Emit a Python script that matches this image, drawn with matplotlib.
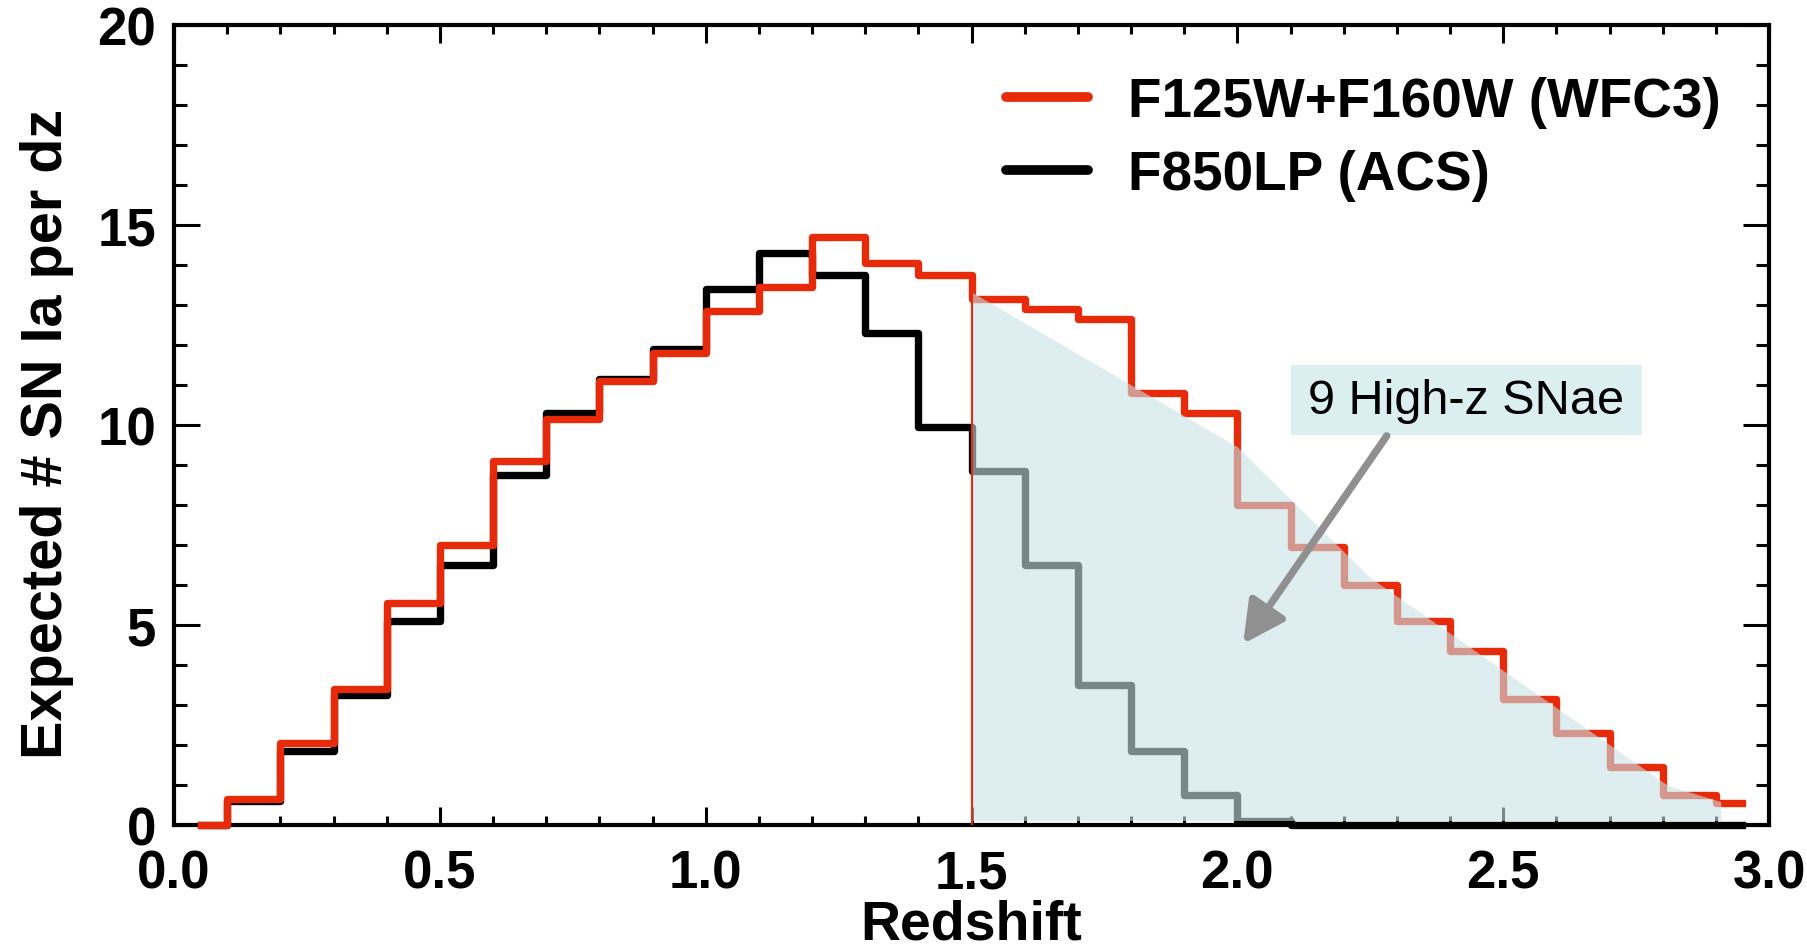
import matplotlib
matplotlib.use("Agg")
import matplotlib.pyplot as plt
from matplotlib.patches import Polygon, Rectangle
from matplotlib.ticker import MultipleLocator

plt.rcParams["font.family"] = ["Liberation Sans", "DejaVu Sans"]

# expected SN Ia counts per 0.1 redshift bin
z_bins = [0.05, 0.15, 0.25, 0.35, 0.45, 0.55, 0.65, 0.75, 0.85, 0.95,
          1.05, 1.15, 1.25, 1.35, 1.45, 1.55, 1.65, 1.75, 1.85, 1.95,
          2.05, 2.15, 2.25, 2.35, 2.45, 2.55, 2.65, 2.75, 2.85, 2.95]
n_wfc3 = [0.0, 0.65, 2.05, 3.4, 5.55, 7.0, 9.1, 10.15, 11.1, 11.8,
          12.85, 13.45, 14.7, 14.05, 13.75, 13.15, 12.9, 12.65, 10.8, 10.3,
          8.0, 6.95, 6.0, 5.1, 4.35, 3.15, 2.3, 1.45, 0.75, 0.55]
n_acs = [0.0, 0.6, 1.85, 3.25, 5.1, 6.5, 8.75, 10.3, 11.15, 11.9,
         13.4, 14.3, 13.75, 12.3, 9.95, 8.85, 6.5, 3.5, 1.85, 0.75,
         0.1, 0.0, 0.0, 0.0, 0.0, 0.0, 0.0, 0.0, 0.0, 0.0]

# high-z region beyond the ACS reach
shade_z = [1.5, 2.0, 2.25, 2.81, 2.91, 2.91, 1.5]
shade_n = [13.32, 9.45, 6.18, 0.98, 0.57, 0.1, 0.1]
z_cut = 1.5
n_cut = 13.75

labels = ["F125W+F160W (WFC3)", "F850LP (ACS)"]
note = "9 High-z SNae"

RED = "#e62a0a"

fig = plt.figure(figsize=(18.07, 9.53), dpi=100)
ax = fig.add_axes([0.0963, 0.1333, 0.8827, 0.8394])

l_acs, = ax.step(z_bins, n_acs, where="mid", color="black", lw=5.3,
                 clip_on=False, zorder=3, label=labels[1])
l_wfc3, = ax.step(z_bins, n_wfc3, where="mid", color=RED, lw=5.3,
                  clip_on=False, zorder=4, label=labels[0])

ax.add_patch(Polygon(list(zip(shade_z, shade_n)), closed=True,
                     facecolor="#c8e1e6", edgecolor="none", alpha=0.6,
                     zorder=5))
ax.plot([z_cut, z_cut], [0, n_cut], color=RED, lw=1.5, zorder=6)

# annotation box + arrow
ax.add_patch(Rectangle((2.101, 9.75), 0.66, 1.75, facecolor="#dbeef0",
                       edgecolor="none", zorder=7))
ax.text(2.431, 10.6, note, fontsize=35, ha="center", va="center",
        zorder=8)
ax.annotate("", xy=(2.011, 4.53), xytext=(2.281, 9.73),
            arrowprops=dict(arrowstyle="-|>,head_length=2.5,head_width=1.3",
                            mutation_scale=10, color="#909090", lw=5.3,
                            shrinkA=0, shrinkB=0),
            zorder=8)

leg = ax.legend(handles=[l_wfc3, l_acs], loc="upper left",
                bbox_to_anchor=(0.5216, 0.936), frameon=False,
                prop={"weight": "bold", "size": 39.5},
                handlelength=1.5, handletextpad=0.72, labelspacing=0.38,
                borderpad=0, borderaxespad=0)
for h in leg.get_lines():
    h.set_linewidth(7)
    h.set_solid_capstyle("round")

ax.set_xlim(0, 3)
ax.set_ylim(0, 20)
ax.xaxis.set_major_locator(MultipleLocator(0.5))
ax.xaxis.set_minor_locator(MultipleLocator(0.1))
ax.yaxis.set_major_locator(MultipleLocator(5))
ax.yaxis.set_minor_locator(MultipleLocator(1))
ax.xaxis.set_major_formatter(plt.FormatStrFormatter("%.1f"))

ax.tick_params(axis="both", which="both", direction="in",
               top=True, right=True, width=2.2)
ax.tick_params(axis="x", which="major", length=13, pad=17)
ax.tick_params(axis="x", which="minor", length=6.5)
ax.tick_params(axis="y", which="major", length=19, pad=13)
ax.tick_params(axis="y", which="minor", length=9.5)
for lab in ax.get_xticklabels() + ax.get_yticklabels():
    lab.set_fontsize(38)
    lab.set_fontweight("bold")
for sp in ax.spines.values():
    sp.set_linewidth(3)

ax.set_xlabel("Redshift", fontsize=40, fontweight="bold")
ax.set_ylabel("Expected # SN Ia per dz", fontsize=41.5, fontweight="bold")
ax.xaxis.set_label_coords(0.5, -0.092)
ax.yaxis.set_label_coords(-0.063, 0.49)

fig.savefig("out.png", dpi=100)
